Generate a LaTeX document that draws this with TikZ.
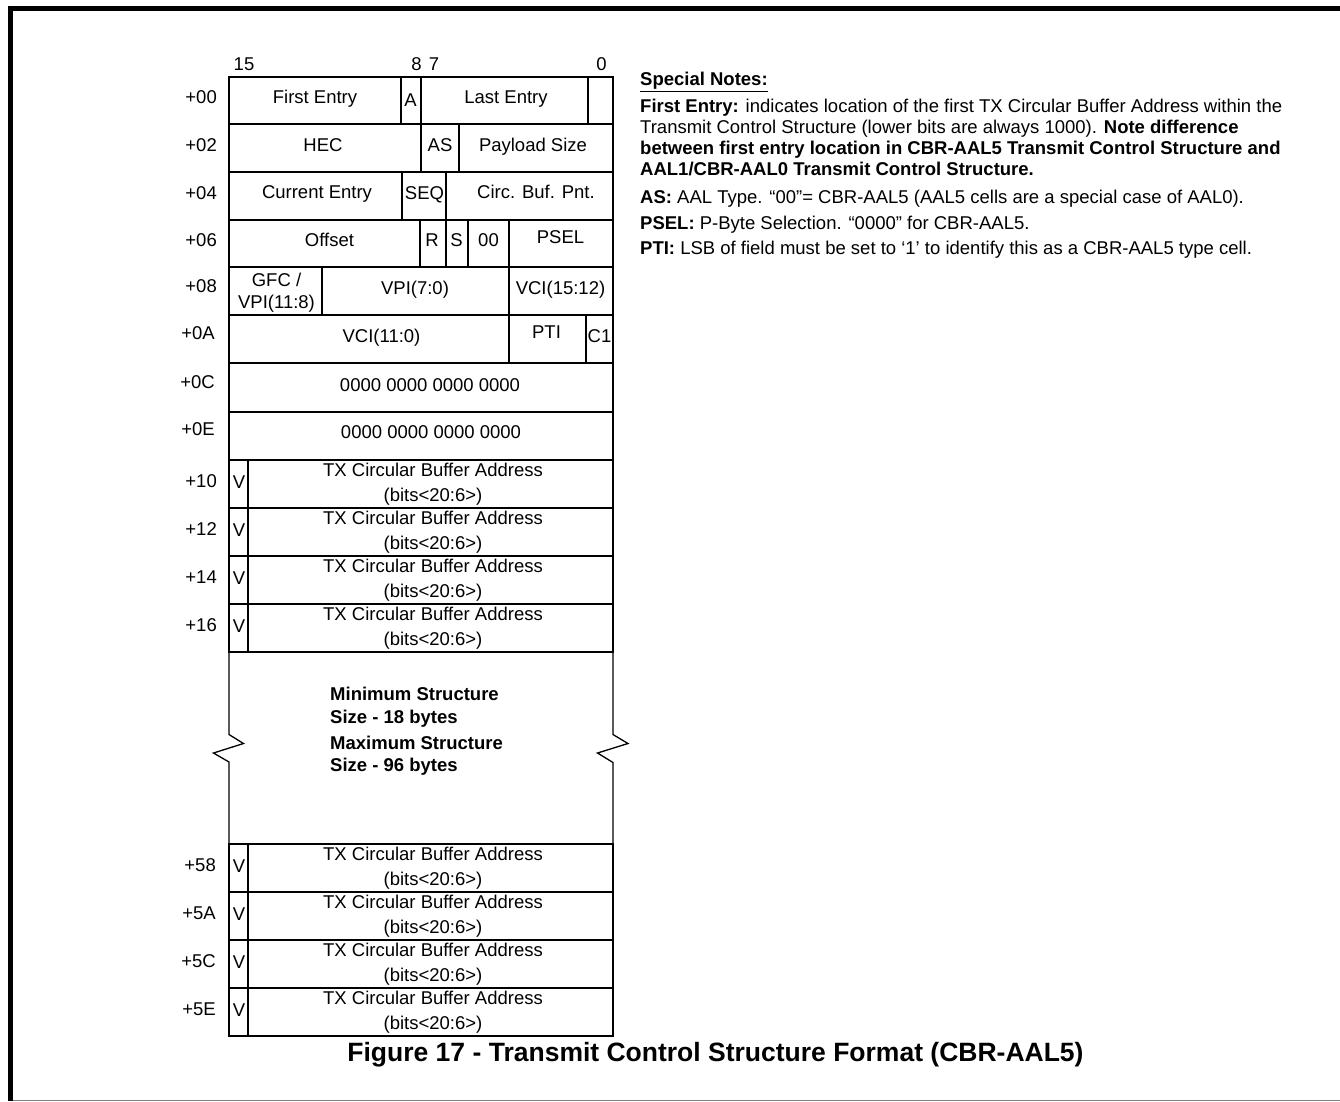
\documentclass[tikz,border=0pt]{standalone}
\usepackage{fontspec}
\setmainfont{Liberation Sans}
\begin{document}
\begin{tikzpicture}[x=1pt,y=-1pt,
  cell/.style={draw=black, line width=1.3pt},
  thickcell/.style={draw=black, line width=2.3pt},
  txt/.style={font=\fontsize{18.5}{22}\selectfont, inner sep=0pt, anchor=base},
  off/.style={txt, anchor=base east},
  note/.style={font=\fontsize{18.5}{21}\selectfont, inner sep=0pt, anchor=base west},
  brk/.style={font=\bfseries\fontsize{18.5}{23}\selectfont, inner sep=0pt, anchor=base west},
  ttl/.style={font=\bfseries\fontsize{26.5}{30}\selectfont, inner sep=0pt, anchor=base}]
\useasboundingbox (0,0) rectangle (1340,1101);
% page frame
\draw[line width=5pt] (10.5,1101) -- (10.5,8.5) -- (1340,8.5);
\draw[gray, line width=1pt] (13,1100.5) -- (1340,1100.5);
% row boxes
\foreach \a/\b in {77/124,124/172,172/220,220/267,267/315,315/363,363/412,412/460,460/508,508/556,556/604,604/652,844/892,892/940,940/988,988/1036}
  \draw[cell] (229,\a) rectangle (613,\b);
% break area sides
\draw[cell] (229,652) -- (229,734.5) -- (243.5,743.5) -- (213.5,753) -- (229,762) -- (229,844);
\draw[cell] (613,652) -- (613,734.5) -- (628,743.5) -- (597.5,753) -- (613,762.5) -- (613,844);
% dividers
\draw[cell] (401,77) -- (401,124) (421,77) -- (421,124);
\draw[thickcell] (588,77) rectangle (613,124);
\draw[cell] (459,124) -- (459,172);
\draw[line width=1.9pt] (421,124) rectangle (459,172);
\draw[cell] (402,172) -- (402,220) (446,172) -- (446,220);
\draw[cell] (420,220) -- (420,267) (446,220) -- (446,267) (468,220) -- (468,267) (509,220) -- (509,267);
\draw[cell] (322,267) -- (322,315) (509,267) -- (509,315);
\draw[cell] (509,315) -- (509,363) (586,315) -- (586,363);
\foreach \a/\b in {460/508,508/556,556/604,604/652,844/892,892/940,940/988,988/1036}
  \draw[cell] (248,\a) -- (248,\b);
% bit numbers
\node[txt] (b15) at (244,70.6) {15};
\node[txt] (b8) at (416.5,70.6) {8};
\node[txt] (b7) at (434,70.6) {7};
\node[txt] (b0) at (601.5,70.6) {0};
% offsets
\node[off] (o00) at (217,103.6) {+00};
\node[off] (o02) at (217,151.6) {+02};
\node[off] (o04) at (217,199.6) {+04};
\node[off] (o06) at (217,246.6) {+06};
\node[off] (o08) at (217,292.6) {+08};
\node[off] (o0A) at (215,339.6) {+0A};
\node[off] (o0C) at (215,388.3) {+0C};
\node[off] (o0E) at (215,435.6) {+0E};
\node[off] (o10) at (217,487.6) {+10};
\node[off] (o12) at (217,535.6) {+12};
\node[off] (o14) at (217,583.6) {+14};
\node[off] (o16) at (217,631.6) {+16};
\node[off] (o58) at (216,871.6) {+58};
\node[off] (o5A) at (216,919.6) {+5A};
\node[off] (o5C) at (216,967.6) {+5C};
\node[off] (o5E) at (216,1015.6) {+5E};
% row +00
\node[txt] (fe) at (315,103.6) {First Entry};
\node[txt] (fa) at (410.5,106) {A};
\node[txt] (le) at (506,103.6) {Last Entry};
% row +02
\node[txt] (hec) at (323,151.6) {HEC};
\node[txt] (as) at (440,151.6) {AS};
\node[txt] (ps) at (533,151.6) {Payload Size};
% row +04
\node[txt] (ce) at (317,198.6) {Current Entry};
\node[txt] (seq) at (424.5,199.6) {SEQ};
\node[txt] (cbp) at (536,198.6) {Circ. Buf. Pnt.};
% row +06
\node[txt] (ofs) at (329.5,246.6) {Offset};
\node[txt] (r) at (432,246.6) {R};
\node[txt] (s) at (456.5,246.6) {S};
\node[txt] (zz) at (488.5,246.6) {00};
\node[txt] (psel) at (560.5,243.3) {PSEL};
% row +08
\node[txt] (gfc1) at (276.5,286.6) {GFC /};
\node[txt] (gfc2) at (276.5,308.6) {VPI(11:8)};
\node[txt] (vpi) at (415,294.3) {VPI(7:0)};
\node[txt] (vcih) at (560.5,294.3) {VCI(15:12)};
% row +0A
\node[txt] (vcil) at (381.5,342.3) {VCI(11:0)};
\node[txt] (pti) at (546.5,338.3) {PTI};
\node[txt] (c1) at (599.5,342.3) {C1};
% rows +0C, +0E
\node[txt] (z0c) at (430,391.6) {0000 0000 0000 0000};
\node[txt] (z0e) at (431,438.3) {0000 0000 0000 0000};
% TX rows
\foreach \t/\n in {460/a,508/b,556/c,604/d,844/e,892/f,940/g,988/h}{
  \node[txt] (v\n) at (239,\t+28.3) {V};
  \node[txt] (tx\n) at (433,\t+16.6) {TX Circular Buffer Address};
  \node[txt] (bits\n) at (433,\t+41.6) {(bits<20:6>)};
}
% break text
\node[brk] (min1) at (330,700.6) {Minimum Structure};
\node[brk] (min2) at (330,723.6) {Size - 18 bytes};
\node[brk] (max1) at (330,749.6) {Maximum Structure};
\node[brk] (max2) at (330,771.6) {Size - 96 bytes};
% notes
\node[note] (n0) at (640,85.6) {\textbf{\underline{Special Notes:}}};
\node[note] (n1) at (640,112.6) {\textbf{First Entry:} indicates location of the first TX Circular Buffer Address within the};
\node[note] (n2) at (640,133.6) {Transmit Control Structure (lower bits are always 1000). \textbf{Note difference}};
\node[note] (n3) at (640,154.6) {\textbf{between first entry location in CBR-AAL5 Transmit Control Structure and}};
\node[note] (n4) at (640,175.6) {\textbf{AAL1/CBR-AAL0 Transmit Control Structure.}};
\node[note] (n5) at (640,203.6) {\textbf{AS:} AAL Type. “00”= CBR-AAL5 (AAL5 cells are a special case of AAL0).};
\node[note] (n6) at (640,229) {\textbf{PSEL:} P-Byte Selection. “0000” for CBR-AAL5.};
\node[note] (n7) at (640,254) {\textbf{PTI:} LSB of field must be set to ‘1’ to identify this as a CBR-AAL5 type cell.};
% title
\node[ttl] (title) at (715.5,1061) {Figure 17 - Transmit Control Structure Format (CBR-AAL5)};
\end{tikzpicture}
\end{document}
